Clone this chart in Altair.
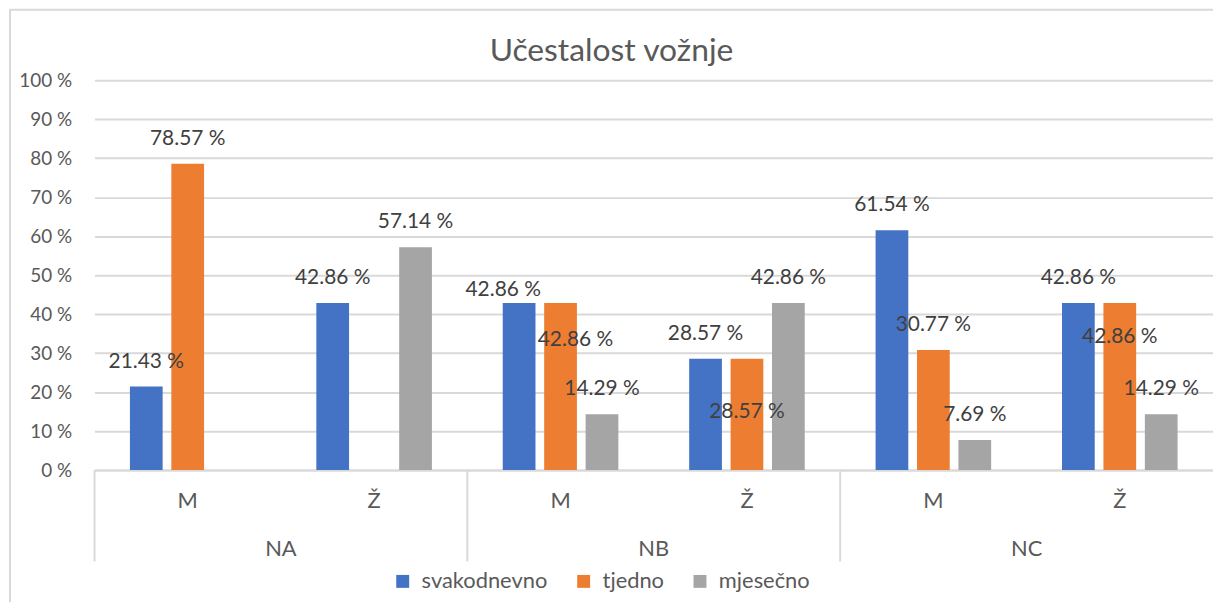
import altair as alt
import pandas as pd

# ---- data ----
title_text = "Učestalost vožnje"
groups = ["NA", "NA", "NB", "NB", "NC", "NC"]
genders = ["M", "Ž", "M", "Ž", "M", "Ž"]
series_names = ["svakodnevno", "tjedno", "mjesečno"]
svakodnevno = [21.43, 42.86, 42.86, 28.57, 61.54, 42.86]
tjedno = [78.57, None, 42.86, 28.57, 30.77, 42.86]
mjesecno = [None, 57.14, 14.29, 42.86, 7.69, 14.29]
# where Excel moved some data labels (value-axis units), None = default above bar
label_at_svakodnevno = [None, None, 46.3, None, None, None]
label_at_tjedno = [None, None, 33.4, 15.0, None, 34.2]
label_at_mjesecno = [None, None, None, None, None, None]
group_names = ["NA", "NB", "NC"]
colors = ["#4472C4", "#ED7D31", "#A5A5A5"]
y_ticks = [0, 10, 20, 30, 40, 50, 60, 70, 80, 90, 100]

slots = [f"{g}|{s}" for g, s in zip(groups, genders)]
rows = []
for i in range(len(slots)):
    for name, vals, labs in zip(series_names,
                                [svakodnevno, tjedno, mjesecno],
                                [label_at_svakodnevno, label_at_tjedno, label_at_mjesecno]):
        if vals[i] is None:
            continue
        rows.append(dict(slot=slots[i], series=name, value=vals[i],
                         label_at=labs[i], label=f"{vals[i]:.2f} %"))
df = pd.DataFrame(rows)
gdf = pd.DataFrame({"g": group_names})
tdf = pd.DataFrame({"t": [title_text]})

W, H = 1125, 392
FONT = "Lato"
TXT = "#595959"
GRID = "#D9D9D9"

x_enc = alt.X("slot:N", sort=slots,
              scale=alt.Scale(domain=slots, paddingInner=0, paddingOuter=0),
              axis=alt.Axis(title=None, labelExpr="split(datum.value, '|')[1]",
                            labelAngle=0, ticks=False, domainColor=GRID, domainWidth=2,
                            labelFont=FONT, labelFontSize=22, labelColor=TXT,
                            labelPadding=38, labelBaseline="alphabetic", grid=False))
xoff = alt.XOffset("series:N", sort=series_names,
                   scale=alt.Scale(domain=series_names, paddingInner=0.21, paddingOuter=0.855))
y_scale = alt.Scale(domain=[0, 100], nice=False)
y_axis = alt.Axis(values=y_ticks, labelExpr="datum.value + ' %'", title=None, ticks=False,
                  domain=False, gridColor=GRID, gridWidth=2, labelFont=FONT,
                  labelFontSize=19, labelColor=TXT, labelPadding=23)
color = alt.Color("series:N", sort=series_names,
                  scale=alt.Scale(domain=series_names, range=colors),
                  legend=alt.Legend(title=None, orient="none", direction="horizontal",
                                    legendX=299, legendY=493, symbolType="square",
                                    symbolSize=169, symbolStrokeWidth=0, labelFont=FONT,
                                    labelFontSize=22, labelColor=TXT, labelOffset=8,
                                    columnPadding=25))

base = alt.Chart(df)
bars = base.mark_bar().encode(x=x_enc, xOffset=xoff,
                              y=alt.Y("value:Q", scale=y_scale, axis=y_axis), color=color)

txt_kw = dict(font=FONT, fontSize=21, color="#404040", baseline="middle")
lab_default = base.transform_filter("!isValid(datum.label_at)").mark_text(dy=-25, **txt_kw).encode(
    x=x_enc, xOffset=xoff, y=alt.Y("value:Q", scale=y_scale, axis=y_axis), text="label:N")
lab_moved = base.transform_filter(
    "isValid(datum.label_at) && datum.slot != 'NB|M'").mark_text(**txt_kw).encode(
    x=x_enc, xOffset=xoff, y=alt.Y("label_at:Q", scale=y_scale, axis=y_axis), text="label:N")
lab_left = base.transform_filter(
    "isValid(datum.label_at) && datum.slot == 'NB|M' && datum.series == 'svakodnevno'").mark_text(
    dx=-16, **txt_kw).encode(
    x=x_enc, xOffset=xoff, y=alt.Y("label_at:Q", scale=y_scale, axis=y_axis), text="label:N")
lab_right = base.transform_filter(
    "isValid(datum.label_at) && datum.slot == 'NB|M' && datum.series == 'tjedno'").mark_text(
    dx=15, **txt_kw).encode(
    x=x_enc, xOffset=xoff, y=alt.Y("label_at:Q", scale=y_scale, axis=y_axis), text="label:N")

main = alt.layer(bars, lab_default, lab_moved, lab_left, lab_right)

gx_scale = alt.Scale(domain=group_names, paddingInner=0, paddingOuter=0)
group_text = alt.Chart(gdf).mark_text(font=FONT, fontSize=22, color=TXT,
                                       baseline="alphabetic").encode(
    x=alt.X("g:N", scale=gx_scale, axis=None), y=alt.value(H + 86), text="g:N")
group_rules = alt.Chart(gdf).mark_rule(color=GRID, strokeWidth=2).encode(
    x=alt.X("g:N", scale=gx_scale, axis=None, bandPosition=0),
    y=alt.value(H), y2=alt.value(H + 92))
groups_layer = alt.layer(group_rules, group_text)

border = alt.Chart(gdf.head(1)).mark_rect(fill="white", fillOpacity=0, stroke=GRID,
                                          strokeWidth=2).encode(
    x=alt.value(-85), x2=alt.value(W + 60), y=alt.value(-71), y2=alt.value(H + 220))

title_mark = alt.Chart(tdf).mark_text(font=FONT, fontSize=32, color=TXT,
                                      baseline="alphabetic", align="center").encode(
    x=alt.value(520), y=alt.value(-19), text="t:N")

chart = alt.layer(border, title_mark, main, groups_layer).resolve_scale(x="independent").properties(
    width=W, height=H,
    autosize=alt.AutoSizeParams(type="none"),
    padding={"left": 87, "top": 71, "right": 0, "bottom": 131},
).configure_view(stroke=None)

chart.save("out.html", embed_options={"renderer": "svg", "actions": False})
